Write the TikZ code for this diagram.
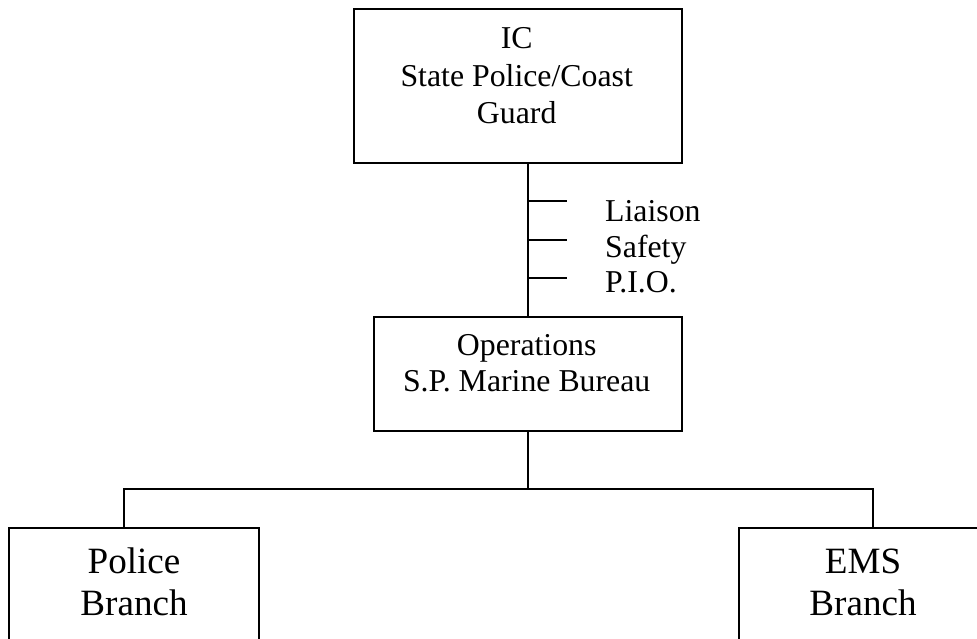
\documentclass[tikz,border=0pt]{standalone}
\usepackage{fontspec}
\setmainfont{Liberation Serif}
\begin{document}
\begin{tikzpicture}[x=1pt,y=-1pt,
  box/.style={draw=black, line width=2pt, fill=white, inner sep=0pt},
  conn/.style={draw=black, line width=2pt},
  txt/.style={inner sep=0pt, anchor=base, font=\fontsize{31.8}{36.6}\selectfont},
  bigtxt/.style={inner sep=0pt, anchor=base, font=\fontsize{37.1}{42.7}\selectfont}]
  % canvas
  \clip (0,0) rectangle (977,638);
  \fill[white] (0,0) rectangle (977,638);

  % boxes
  \node[box, minimum width=327.4pt, minimum height=154pt] (ic) at (518,86.3) {};
  \node[box, minimum width=307.7pt, minimum height=114.3pt] (ops) at (527.85,373.85) {};
  \node[box, minimum width=250.3pt, minimum height=140pt] (police) at (134.15,597.7) {};
  \node[box, minimum width=250.3pt, minimum height=140pt] (ems) at (864.15,597.7) {};

  % box texts
  \node[txt] (ictitle) at (516.7,48) {IC};
  \node[txt] (icline) at (516.7,86) {State Police/Coast};
  \node[txt] (icguard) at (516.7,123) {Guard};
  \node[txt] (opstitle) at (526.7,355) {Operations};
  \node[txt] (opsline) at (526.7,391.7) {S.P. Marine Bureau};
  \node[bigtxt] (poltitle) at (134,573) {Police};
  \node[bigtxt] (polline) at (134,615) {Branch};
  \node[bigtxt] (emstitle) at (863,573) {EMS};
  \node[bigtxt] (emsline) at (863,615) {Branch};

  % staff positions
  \node[txt, anchor=base west] (liaison) at (605,221.7) {Liaison};
  \node[txt, anchor=base west] (safety) at (605,257) {Safety};
  \node[txt, anchor=base west] (pio) at (605,292.7) {P.I.O.};

  % command line with staff ticks
  \draw[conn] (ops.north) -- (ops.north |- ic.south);
  \coordinate (t1) at (ops.north |- 0,201);
  \coordinate (t2) at (ops.north |- 0,240);
  \coordinate (t3) at (ops.north |- 0,278.3);
  \draw[conn] (t1) -- ++(39.5,0);
  \draw[conn] (t2) -- ++(39.5,0);
  \draw[conn] (t3) -- ++(39.5,0);

  % branch bus
  \coordinate (pj) at (124,489.3);
  \coordinate (ej) at (873.3,489.3);
  \draw[conn] (ops.south) -- (ops.south |- pj);
  \draw[conn] (pj |- police.north) -- (pj) -- (ej) -- (ej |- ems.north);
\end{tikzpicture}
\end{document}
